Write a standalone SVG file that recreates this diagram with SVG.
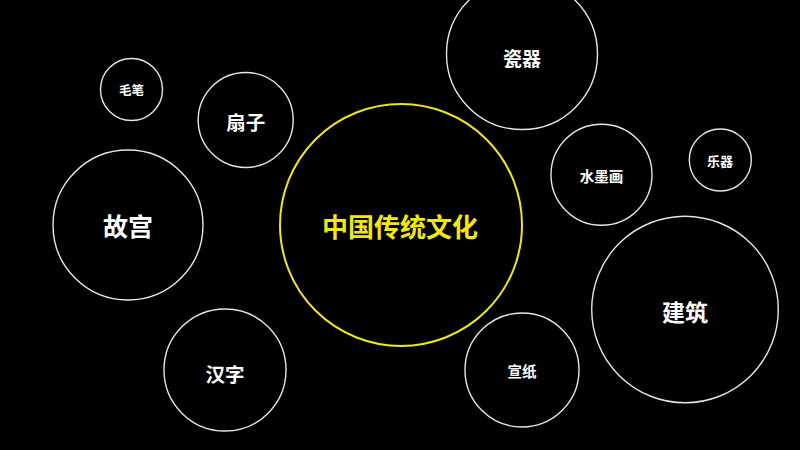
<svg xmlns="http://www.w3.org/2000/svg" width="800" height="450" viewBox="0 0 800 450">
<style>
.b{fill:none;stroke:#e6e6e6;stroke-width:1.4}
.c{fill:none;stroke:#f2e810;stroke-width:2}
text{font-family:"Noto Sans CJK SC","Noto Sans",sans-serif;font-weight:700;fill:#fff;text-anchor:middle;dominant-baseline:central}
.y{fill:#f2e810}
</style>
<rect width="800" height="450" fill="#000"/>
<g id="connectors"/>
<g id="center"><circle class="c" cx="401" cy="225" r="121"/><text class="y" x="400" y="225" font-size="26">中国传统文化</text></g>
<g id="ciqi"><circle class="b" cx="522" cy="54" r="75.5"/><text x="522" y="57" font-size="19">瓷器</text></g>
<g id="maobi"><circle class="b" cx="131.5" cy="89.5" r="31"/><text x="131.5" y="89.5" font-size="12.5">毛笔</text></g>
<g id="shanzi"><circle class="b" cx="245.7" cy="120" r="47.5"/><text x="245.7" y="121" font-size="19.5">扇子</text></g>
<g id="gugong"><circle class="b" cx="128" cy="225" r="75"/><text x="128" y="225" font-size="25">故宫</text></g>
<g id="hanzi"><circle class="b" cx="225" cy="370" r="61"/><text x="225" y="373" font-size="19.5">汉字</text></g>
<g id="shuimohua"><circle class="b" cx="601.5" cy="174.8" r="50.5"/><text x="601.5" y="175.5" font-size="14.5">水墨画</text></g>
<g id="yueqi"><circle class="b" cx="720.3" cy="160" r="31"/><text x="720" y="160" font-size="13">乐器</text></g>
<g id="jianzhu"><circle class="b" cx="685" cy="309.5" r="93.3"/><text x="685" y="311" font-size="23">建筑</text></g>
<g id="xuanzhi"><circle class="b" cx="522" cy="370" r="57"/><text x="522" y="370" font-size="14.5">宣纸</text></g>
</svg>
